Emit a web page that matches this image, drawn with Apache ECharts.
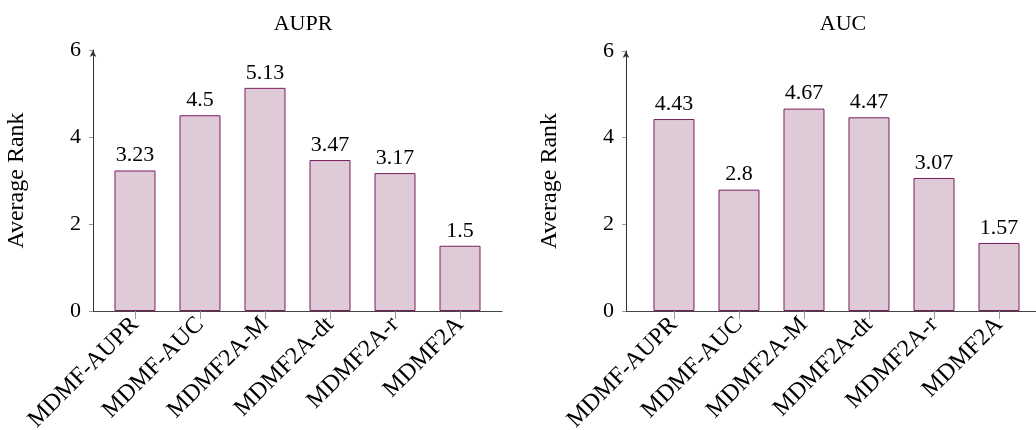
<!DOCTYPE html>
<html>
<head>
<meta charset="utf-8">
<script src="https://cdn.jsdelivr.net/npm/echarts@6/dist/echarts.min.js"></script>
<style>
  html, body { margin: 0; padding: 0; background: #fff; }
  #chart { width: 1036px; height: 430px; }
</style>
</head>
<body>
<div id="chart"></div>
<script>
const methods = ['MDMF-AUPR', 'MDMF-AUC', 'MDMF2A-M', 'MDMF2A-dt', 'MDMF2A-r', 'MDMF2A']
const auprRank = [3.23, 4.5, 5.13, 3.47, 3.17, 1.5]
const aucRank = [4.43, 2.8, 4.67, 4.47, 3.07, 1.57]
const panelTitles = ['AUPR', 'AUC']
const yTicks = [0, 2, 4, 6]

const font = 'Liberation Serif'
const positions = methods.map((m, i) => i)

const xAxisFor = (gridIndex, pad, padRight) => ({
    type: 'value',
    gridIndex,
    min: -pad,
    max: methods.length - 1 + padRight,
    splitLine: { show: false },
    axisLine: { onZero: false, lineStyle: { color: '#444', width: 1 } },
    axisTick: { customValues: positions, length: 8, lineStyle: { color: '#999' } },
    axisLabel: {
        customValues: positions,
        rotate: 45,
        margin: 10,
        color: '#000',
        fontFamily: font,
        fontSize: 24,
        formatter: v => methods[Math.round(v)]
    }
})

const yAxisFor = gridIndex => ({
    type: 'value',
    gridIndex,
    min: 0,
    max: 6,
    interval: 2,
    name: 'Average Rank',
    nameLocation: 'middle',
    nameGap: 64,
    nameTextStyle: { color: '#000', fontFamily: font, fontSize: 24 },
    splitLine: { show: false },
    axisLine: { show: true, onZero: false, symbol: ['none', 'arrow'], symbolSize: [5, 7], lineStyle: { color: '#333' } },
    axisTick: { show: true, length: 4, lineStyle: { color: '#999' } },
    axisLabel: {
        margin: 12,
        color: '#000',
        fontFamily: font,
        fontSize: 22,
        formatter: v => (yTicks.includes(v) ? String(v) : '')
    }
})

const barSeries = (idx, values) => ({
    type: 'bar',
    xAxisIndex: idx,
    yAxisIndex: idx,
    barWidth: 41,
    data: values.map((v, i) => [i, v]),
    itemStyle: { color: '#dfcad8', borderColor: '#7b1c5e', borderWidth: 1 },
    label: {
        show: true,
        position: 'top',
        distance: 4,
        color: '#000',
        fontFamily: font,
        fontSize: 22,
        formatter: p => String(p.value[1])
    }
})

const chart = echarts.init(document.getElementById('chart'))
chart.setOption({
    animation: false,
    title: [
        { text: panelTitles[0], left: 298, top: 8, textAlign: 'center',
          textStyle: { fontFamily: font, fontSize: 22, fontWeight: 'normal', color: '#000' } },
        { text: panelTitles[1], left: 838, top: 8, textAlign: 'center',
          textStyle: { fontFamily: font, fontSize: 22, fontWeight: 'normal', color: '#000' } }
    ],
    grid: [
        { left: 93, top: 50, width: 409, height: 261, outerBoundsMode: 'none', containLabel: false },
        { left: 626, top: 51, width: 410, height: 260, outerBoundsMode: 'none', containLabel: false }
    ],
    xAxis: [xAxisFor(0, 0.646, 0.646), xAxisFor(1, 0.738, 0.569)],
    yAxis: [yAxisFor(0), yAxisFor(1)],
    series: [barSeries(0, auprRank), barSeries(1, aucRank)]
})
</script>
</body>
</html>
